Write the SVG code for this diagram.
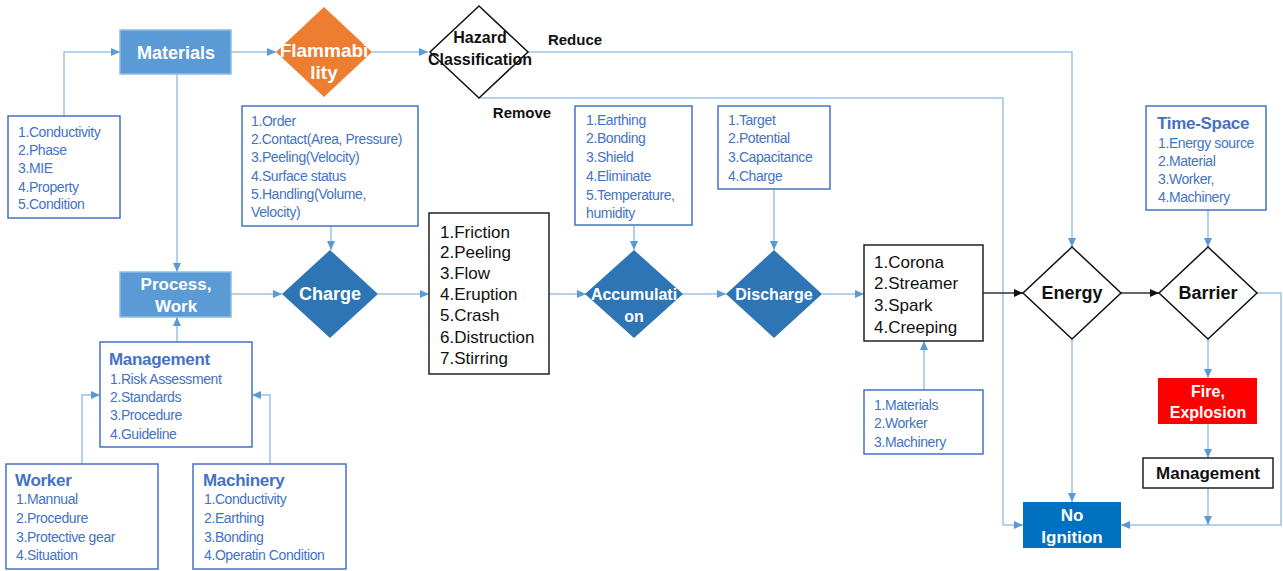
<svg xmlns="http://www.w3.org/2000/svg" width="1283" height="571" viewBox="0 0 1283 571">
  <style>
    text { font-family: "Liberation Sans", Arial, sans-serif; }
    .bg { fill: #ffffff; }
    .list { fill: #ffffff; stroke: #4472c4; stroke-width: 1.5; }
    .lt { fill: #4472c4; font-size: 14px; letter-spacing: -0.4px; }
    .ttl { fill: #4472c4; font-size: 17px; font-weight: bold; letter-spacing: -0.3px; }
    .blk { fill: #ffffff; stroke: #222222; stroke-width: 1.5; }
    .bt { fill: #111111; font-size: 17px; }
    .lbl { fill: #111111; font-weight: bold; text-anchor: middle; }
    .wt { fill: #ffffff; font-weight: bold; text-anchor: middle; }
    .lightbox { fill: #5b9bd5; stroke: #8dbbe6; stroke-width: 1.5; }
    .dia { fill: #2e75b6; }
    .wdia { fill: #ffffff; stroke: #111111; stroke-width: 1.5; }
    .con { fill: none; stroke: #9dc3e6; stroke-width: 1.5; marker-end: url(#ah); }
    .con2 { fill: none; stroke: #9dc3e6; stroke-width: 1.5; }
    .dark { fill: none; stroke: #333333; stroke-width: 1.5; marker-end: url(#ahd); }
  </style>
  <defs>
    <marker id="ah" markerUnits="userSpaceOnUse" markerWidth="9" markerHeight="8" refX="9" refY="4" orient="auto">
      <path d="M0,0 L9,4 L0,8 z" fill="#5b9bd5"/>
    </marker>
    <marker id="ahd" markerUnits="userSpaceOnUse" markerWidth="9" markerHeight="8" refX="9" refY="4" orient="auto">
      <path d="M0,0 L9,4 L0,8 z" fill="#111111"/>
    </marker>
  </defs>
  <rect class="bg" x="0" y="0" width="1283" height="571"/>

  <!-- connectors -->
  <g id="connectors">
    <path class="con" d="M64,116 V52 H120"/>
    <path class="con" d="M231,52 H276"/>
    <path class="con" d="M372,52 H428"/>
    <path class="con" d="M528,52 H1072 V247"/>
    <path class="con" d="M479,98 H1003 V525 H1023"/>
    <path class="con" d="M177,74 V272"/>
    <path class="con" d="M177,342 V317"/>
    <path class="con" d="M82,464 V395 H100"/>
    <path class="con" d="M270,464 V395 H252"/>
    <path class="con" d="M231,294 H282"/>
    <path class="con" d="M331,226 V250"/>
    <path class="con" d="M378,294 H429"/>
    <path class="con" d="M549,294 H586"/>
    <path class="con" d="M634,225 V250"/>
    <path class="con" d="M682,294 H726"/>
    <path class="con" d="M774,189 V250"/>
    <path class="con" d="M822,294 H864"/>
    <path class="con" d="M924,390 V341"/>
    <path class="dark" d="M983,293 H1023"/>
    <path class="dark" d="M1121,293 H1159"/>
    <path class="con" d="M1208,210 V247"/>
    <path class="con" d="M1257,293 H1281 V525 H1121"/>
    <path class="con" d="M1208,339 V378"/>
    <path class="con" d="M1208,424 V458"/>
    <path class="con" d="M1208,488 V525"/>
    <path class="con" d="M1072,339 V502"/>
  </g>

  <!-- edge labels -->
  <g id="edge-labels">
    <text class="lbl" x="575" y="45" font-size="15">Reduce</text>
    <text class="lbl" x="522" y="118" font-size="15">Remove</text>
  </g>

  <!-- upper row -->
  <g id="materials">
    <rect class="lightbox" x="120" y="30" width="111" height="44"/>
    <text class="wt" x="176" y="59" font-size="18">Materials</text>
  </g>
  <g id="flammability">
    <polygon points="324,7 372,52 324,97 276,52" fill="#ed7d31"/>
    <text class="wt" x="324" y="57" font-size="19">Flammabi</text>
    <text class="wt" x="324" y="79" font-size="19">lity</text>
  </g>
  <g id="hazard">
    <polygon class="wdia" points="479,6 528,52 479,98 430,52"/>
    <text class="lbl" x="480" y="43" font-size="16">Hazard</text>
    <text class="lbl" x="480" y="65" font-size="16">Classification</text>
  </g>
  <g id="material-props">
    <rect class="list" x="8" y="116" width="112" height="102"/>
    <text class="lt" x="18" y="137">1.Conductivity</text>
    <text class="lt" x="18" y="155">2.Phase</text>
    <text class="lt" x="18" y="173">3.MIE</text>
    <text class="lt" x="18" y="192">4.Property</text>
    <text class="lt" x="18" y="209">5.Condition</text>
  </g>
  <g id="charge-factors">
    <rect class="list" x="242" y="106" width="176" height="120"/>
    <text class="lt" x="251" y="126" font-size="15.5" letter-spacing="0">1.Order</text>
    <text class="lt" x="251" y="144" font-size="15" textLength="151" lengthAdjust="spacingAndGlyphs">2.Contact(Area, Pressure)</text>
    <text class="lt" x="251" y="162" font-size="15.5" letter-spacing="0">3.Peeling(Velocity)</text>
    <text class="lt" x="251" y="181" font-size="15.5" letter-spacing="0">4.Surface status</text>
    <text class="lt" x="251" y="199" font-size="15.5" letter-spacing="0">5.Handling(Volume,</text>
    <text class="lt" x="251" y="217" font-size="15.5" letter-spacing="0">Velocity)</text>
  </g>
  <g id="accumulation-control">
    <rect class="list" x="575" y="106" width="117" height="119"/>
    <text class="lt" x="586" y="125">1.Earthing</text>
    <text class="lt" x="586" y="143">2.Bonding</text>
    <text class="lt" x="586" y="162">3.Shield</text>
    <text class="lt" x="586" y="181">4.Eliminate</text>
    <text class="lt" x="586" y="200">5.Temperature,</text>
    <text class="lt" x="586" y="218">humidity</text>
  </g>
  <g id="discharge-factors">
    <rect class="list" x="718" y="106" width="112" height="83"/>
    <text class="lt" x="728" y="125">1.Target</text>
    <text class="lt" x="728" y="143">2.Potential</text>
    <text class="lt" x="728" y="162">3.Capacitance</text>
    <text class="lt" x="728" y="181">4.Charge</text>
  </g>
  <g id="time-space">
    <rect class="list" x="1146" y="106" width="120" height="104"/>
    <text class="ttl" x="1157" y="129">Time-Space</text>
    <text class="lt" x="1158" y="148">1.Energy source</text>
    <text class="lt" x="1158" y="166">2.Material</text>
    <text class="lt" x="1158" y="184">3.Worker,</text>
    <text class="lt" x="1158" y="202">4.Machinery</text>
  </g>

  <!-- main row -->
  <g id="process-work">
    <rect class="lightbox" x="120" y="272" width="111" height="45"/>
    <text class="wt" x="176" y="290" font-size="17">Process,</text>
    <text class="wt" x="176" y="312" font-size="17">Work</text>
  </g>
  <g id="charge">
    <polygon class="dia" points="330,250 378,294 330,338 282,294"/>
    <text class="wt" x="330" y="300" font-size="18">Charge</text>
  </g>
  <g id="charge-mechanisms">
    <rect class="blk" x="429" y="213" width="120" height="161"/>
    <text class="bt" x="440" y="238">1.Friction</text>
    <text class="bt" x="440" y="258">2.Peeling</text>
    <text class="bt" x="440" y="279">3.Flow</text>
    <text class="bt" x="440" y="300">4.Eruption</text>
    <text class="bt" x="440" y="321">5.Crash</text>
    <text class="bt" x="440" y="343">6.Distruction</text>
    <text class="bt" x="440" y="364">7.Stirring</text>
  </g>
  <g id="accumulation">
    <polygon class="dia" points="634,250 683,294 634,338 585,294"/>
    <text class="wt" x="634" y="300" font-size="16">Accumulati</text>
    <text class="wt" x="634" y="322" font-size="16">on</text>
  </g>
  <g id="discharge">
    <polygon class="dia" points="774,250 822,294 774,338 726,294"/>
    <text class="wt" x="774" y="300" font-size="16">Discharge</text>
  </g>
  <g id="discharge-types">
    <rect class="blk" x="864" y="245" width="119" height="96"/>
    <text class="bt" x="874" y="268">1.Corona</text>
    <text class="bt" x="874" y="289">2.Streamer</text>
    <text class="bt" x="874" y="311">3.Spark</text>
    <text class="bt" x="874" y="333">4.Creeping</text>
  </g>
  <g id="discharge-sources">
    <rect class="list" x="864" y="390" width="119" height="64"/>
    <text class="lt" x="874" y="410">1.Materials</text>
    <text class="lt" x="874" y="428">2.Worker</text>
    <text class="lt" x="874" y="447">3.Machinery</text>
  </g>
  <g id="energy">
    <polygon class="wdia" points="1072,247 1121,293 1072,339 1023,293"/>
    <text class="lbl" x="1072" y="299" font-size="18">Energy</text>
  </g>
  <g id="barrier">
    <polygon class="wdia" points="1208,247 1257,293 1208,339 1159,293"/>
    <text class="lbl" x="1208" y="299" font-size="18">Barrier</text>
  </g>
  <g id="fire-explosion">
    <rect x="1158" y="378" width="99" height="46" fill="#ff0000"/>
    <text class="wt" x="1208" y="397" font-size="16">Fire,</text>
    <text class="wt" x="1208" y="418" font-size="16">Explosion</text>
  </g>
  <g id="management-response">
    <rect class="blk" x="1143" y="458" width="130" height="30"/>
    <text class="lbl" x="1208" y="479" font-size="17">Management</text>
  </g>
  <g id="no-ignition">
    <rect x="1023" y="502" width="98" height="46" fill="#0070c0"/>
    <text class="wt" x="1072" y="521" font-size="17">No</text>
    <text class="wt" x="1072" y="543" font-size="17">Ignition</text>
  </g>

  <!-- lower left -->
  <g id="management">
    <rect class="list" x="100" y="342" width="152" height="105"/>
    <text class="ttl" x="109" y="365">Management</text>
    <text class="lt" x="110" y="384">1.Risk Assessment</text>
    <text class="lt" x="110" y="402">2.Standards</text>
    <text class="lt" x="110" y="420">3.Procedure</text>
    <text class="lt" x="110" y="439">4.Guideline</text>
  </g>
  <g id="worker">
    <rect class="list" x="6" y="464" width="152" height="105"/>
    <text class="ttl" x="15" y="486">Worker</text>
    <text class="lt" x="16" y="504">1.Mannual</text>
    <text class="lt" x="16" y="523">2.Procedure</text>
    <text class="lt" x="16" y="542">3.Protective gear</text>
    <text class="lt" x="16" y="560">4.Situation</text>
  </g>
  <g id="machinery">
    <rect class="list" x="193" y="464" width="153" height="105"/>
    <text class="ttl" x="203" y="486">Machinery</text>
    <text class="lt" x="204" y="504">1.Conductivity</text>
    <text class="lt" x="204" y="523">2.Earthing</text>
    <text class="lt" x="204" y="542">3.Bonding</text>
    <text class="lt" x="204" y="560">4.Operatin Condition</text>
  </g>
</svg>
